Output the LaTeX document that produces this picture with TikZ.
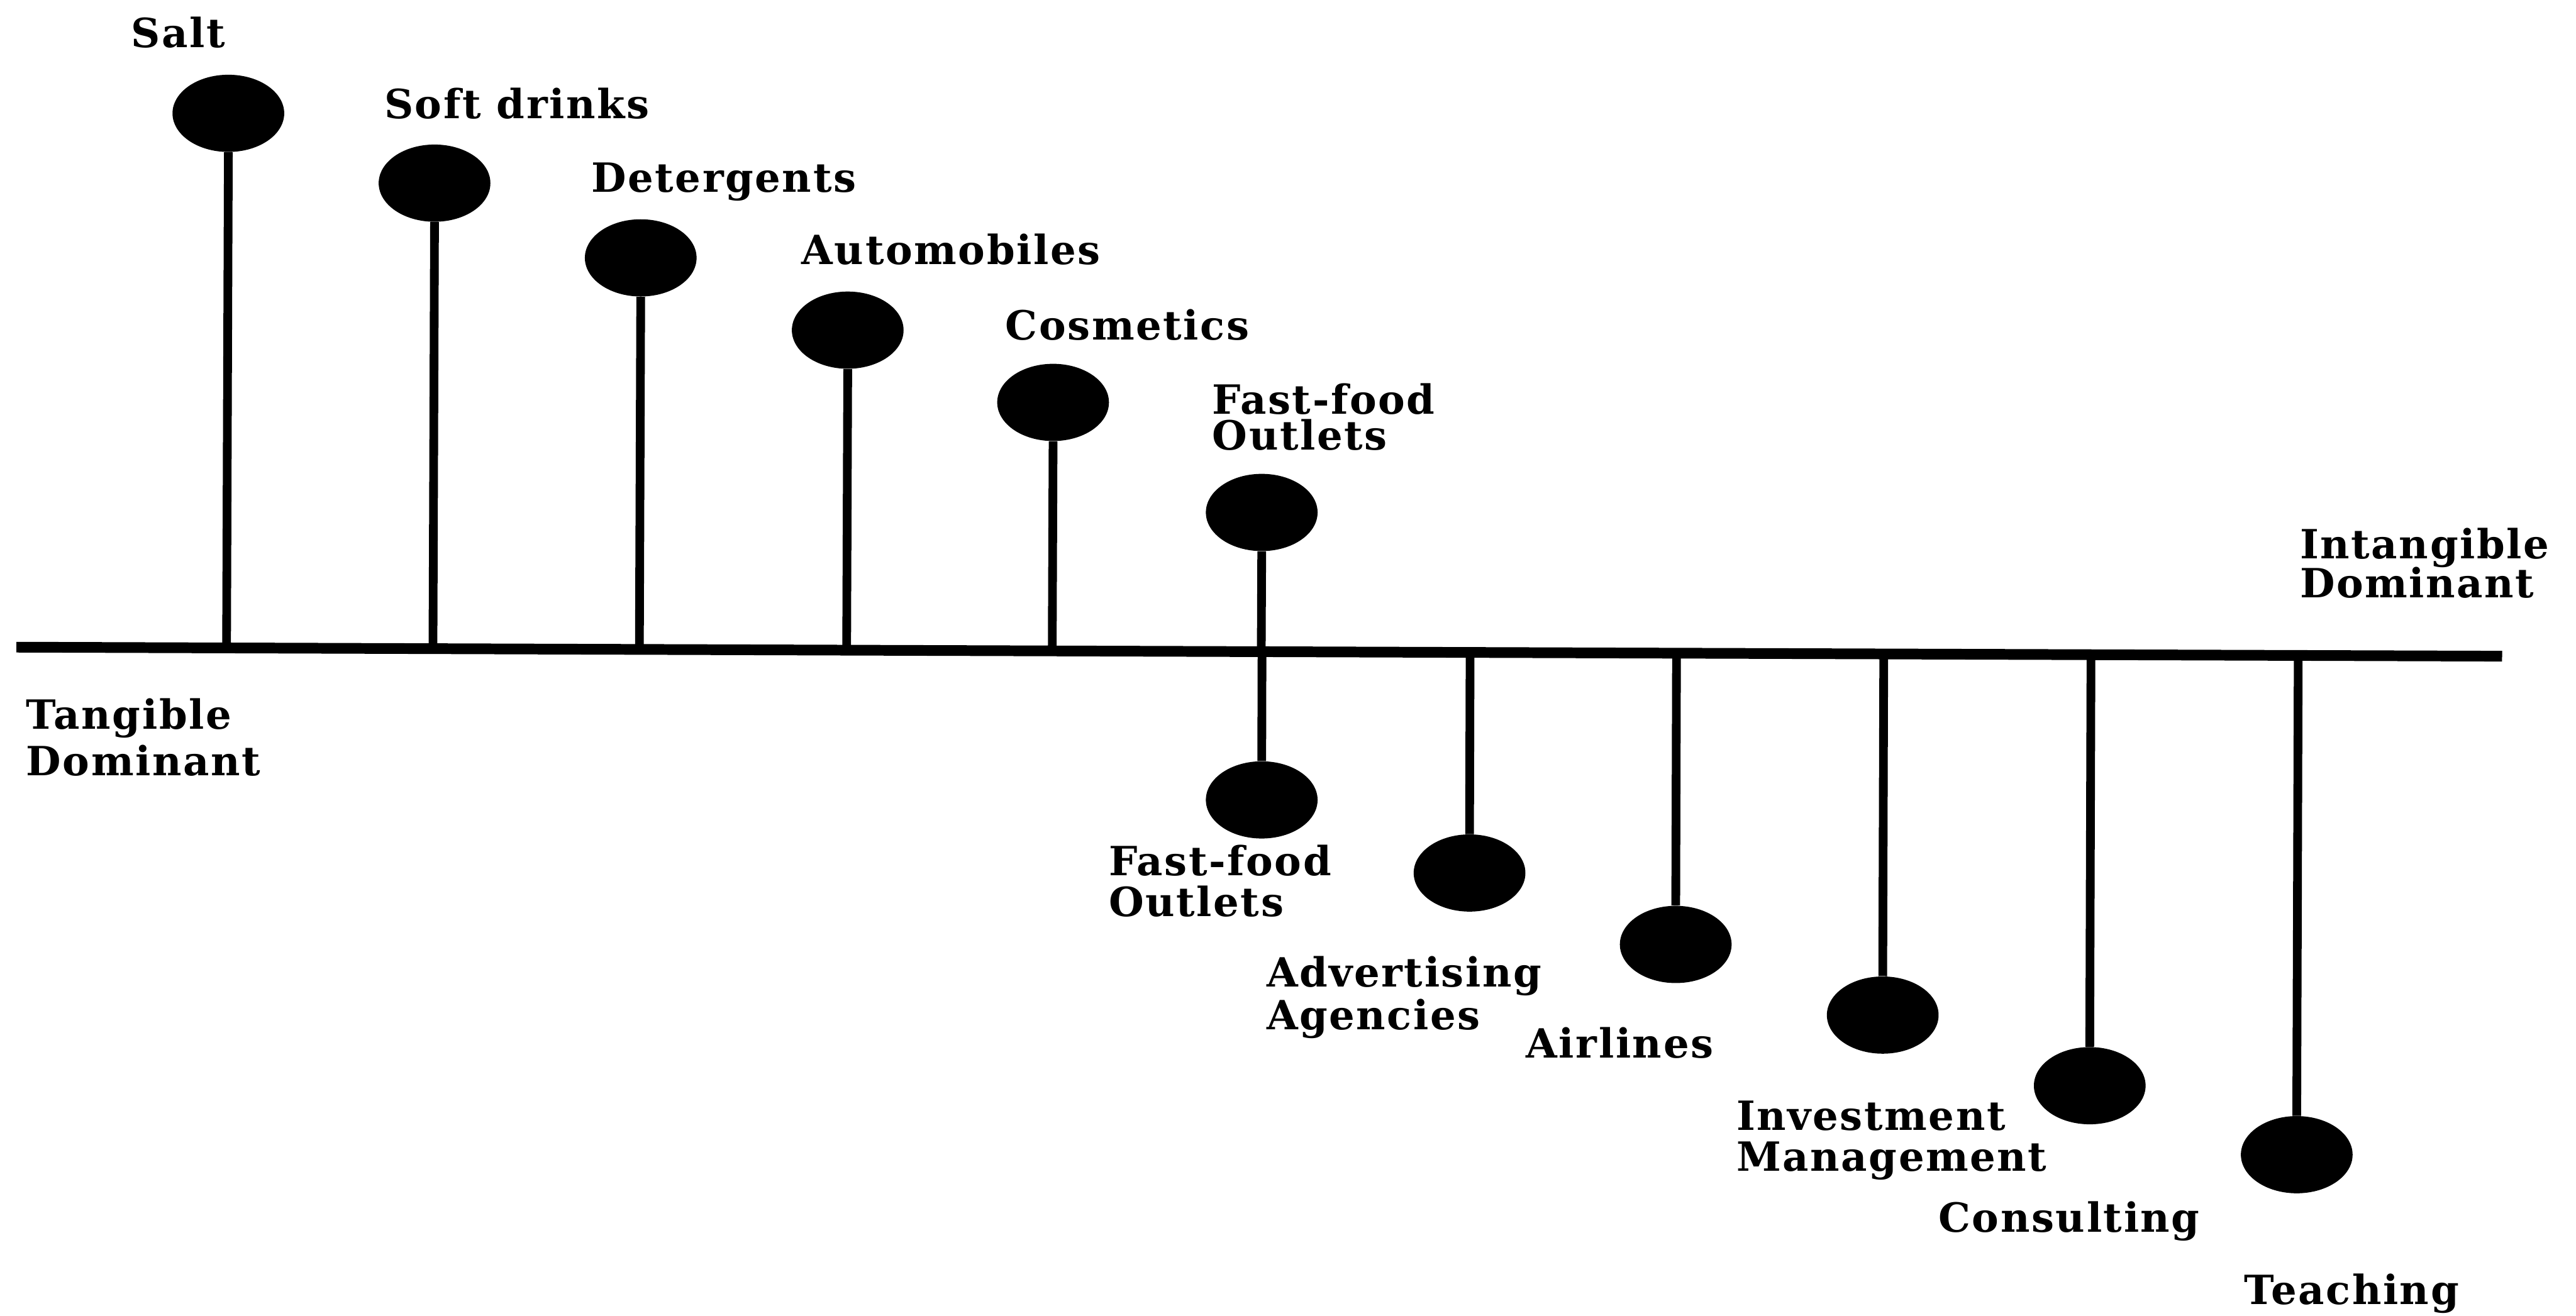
\documentclass[tikz,border=0pt]{standalone}
\usepackage{fontspec}
\setmainfont{DejaVu Serif}[LetterSpace=4]
\usetikzlibrary{shapes.geometric,calc}

\tikzset{
  ball/.style={ellipse, fill=black, draw=none, inner sep=0pt,
               minimum width=68pt, minimum height=47pt},
  stem/.style={line width=5.3pt},
  axisline/.style={line width=6.5pt},
  lbl/.style={anchor=base west, inner sep=0pt, outer sep=0pt, align=left,
              font=\bfseries\fontsize{24.5}{25}\selectfont},
}

\begin{document}
\begin{tikzpicture}[x=1pt, y=-1pt]
  \useasboundingbox (0,0) rectangle (1568,801);

  % the continuum axis
  \coordinate (aL) at (10,394);
  \coordinate (aR) at (1523,399.5);
  \draw[axisline] (aL) -- (aR);

  % tangible-dominant products (above the axis)
  \node[ball] (salt) at (139,69) {};
  \node[ball] (soft) at (264.5,111.5) {};
  \node[ball] (det)  at (390,157) {};
  \node[ball] (auto) at (516,201) {};
  \node[ball] (cosm) at (641,245) {};
  \node[ball] (ffup) at (768,312) {};

  % intangible-dominant services (below the axis)
  \node[ball] (ffdn)  at (768,487) {};
  \node[ball] (adv)   at (894.5,531.5) {};
  \node[ball] (air)   at (1020,575) {};
  \node[ball] (inv)   at (1146,618) {};
  \node[ball] (cons)  at (1272,661) {};
  \node[ball] (teach) at (1398,703) {};

  \foreach \b in {salt,soft,det,auto,cosm,ffup}
    \draw[stem] (\b.south) -- ($(aL)!(\b.south)!(aR)$);
  \foreach \b in {ffdn,adv,air,inv,cons,teach}
    \draw[stem] (\b.north) -- ($(aL)!(\b.north)!(aR)$);

  % labels (multi-line labels are placed by the baseline of their last line)
  \node[lbl] (tSalt) at (80,29)   {Salt};
  \node[lbl] (tSoft) at (234,72)  {Soft drinks};
  \node[lbl] (tDet)  at (360,117) {Detergents};
  \node[lbl] (tAuto) at (488,161) {Automobiles};
  \node[lbl] (tCosm) at (612,207) {Cosmetics};
  \node[lbl] (tFfUp) at (738,274) {Fast-food\\[-3pt]Outlets};
  \node[lbl] (tInt)  at (1400,364) {Intangible\\[-1pt]Dominant};
  \node[lbl] (tTan)  at (16,472)  {Tangible\\[3pt]Dominant};
  \node[lbl] (tFfDn) at (675,558) {Fast-food\\Outlets};
  \node[lbl] (tAdv)  at (771,627) {Advertising\\[1pt]Agencies};
  \node[lbl] (tAir)  at (929,644) {Airlines};
  \node[lbl] (tInv)  at (1057,713) {Investment\\Management};
  \node[lbl] (tCons) at (1180,750) {Consulting};
  \node[lbl] (tTch)  at (1366,794) {Teaching};
\end{tikzpicture}
\end{document}
